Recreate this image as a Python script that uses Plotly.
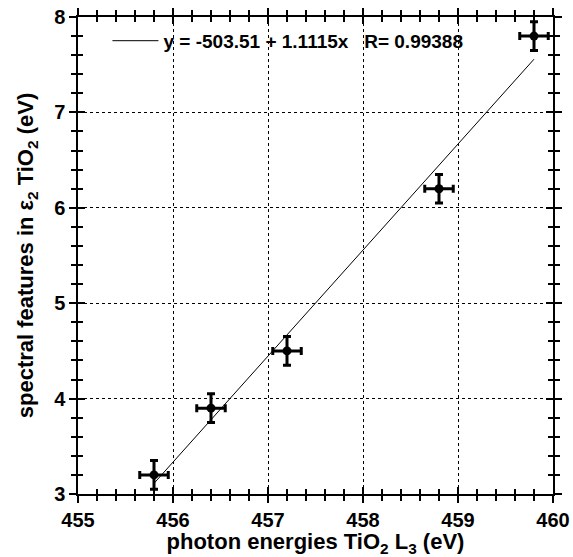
import plotly.graph_objects as go

# data
photon_energy = [455.8, 456.4, 457.2, 458.8, 459.8]
spectral_feature = [3.2, 3.9, 4.5, 6.2, 7.8]
x_err = [0.15, 0.15, 0.15, 0.15, 0.15]
y_err = [0.15, 0.15, 0.15, 0.15, 0.15]
fit_intercept = -503.51
fit_slope = 1.1115
fit_r = 0.99388

fit_x = [min(photon_energy), max(photon_energy)]
fit_y = [fit_intercept + fit_slope * v for v in fit_x]

FONT = "Liberation Sans, Arial, sans-serif"
NB = "\u00a0"

fig = go.Figure()
fig.add_trace(go.Scatter(
    x=fit_x, y=fit_y, mode="lines",
    line=dict(color="black", width=1),
    name=f"y = {fit_intercept} + {fit_slope}x{NB}{NB}{NB}R= {fit_r}",
    showlegend=True, hoverinfo="skip",
))
fig.add_trace(go.Scatter(
    x=photon_energy, y=spectral_feature, mode="markers",
    marker=dict(color="black", size=9),
    error_x=dict(type="data", array=x_err, color="black", thickness=3, width=4),
    error_y=dict(type="data", array=y_err, color="black", thickness=3, width=4),
    showlegend=False,
))
# helper trace so the overlaid (inside-tick) axes are drawn
fig.add_trace(go.Scatter(x=[None], y=[None], xaxis="x2", yaxis="y2",
                         showlegend=False, hoverinfo="skip"))

common = dict(showline=True, linecolor="black", linewidth=1.5,
              ticklen=7, tickwidth=1.5, tickcolor="black",
              zeroline=False, automargin=False)
tickfont = dict(family=FONT, size=20, color="black", weight="bold")
titlefont = dict(family=FONT, size=22, color="black", weight="bold")

fig.update_layout(
    width=573, height=557,
    margin=dict(l=78, r=20, t=17, b=63),
    paper_bgcolor="white", plot_bgcolor="white",
    font=dict(family=FONT, color="black"),
    showlegend=True,
    legend=dict(x=0.062, y=0.95, xanchor="left", yanchor="middle",
                bgcolor="rgba(0,0,0,0)",
                font=dict(family=FONT, size=19, color="black", weight="bold"),
                itemwidth=46),
    xaxis=dict(range=[455, 460], dtick=1, tick0=455,
               ticks="outside", mirror="ticks",
               minor=dict(ticks="outside", dtick=0.2, ticklen=5, tickcolor="black", tickwidth=1.5),
               showgrid=True, gridcolor="black", gridwidth=1, griddash="dot",
               tickfont=tickfont,
               title=dict(text="photon energies TiO<sub>2</sub> L<sub>3</sub> (eV)",
                          font=titlefont, standoff=6),
               **common),
    yaxis=dict(range=[3, 8], dtick=1, tick0=3,
               ticks="outside", mirror="ticks",
               minor=dict(ticks="outside", dtick=0.2, ticklen=5, tickcolor="black", tickwidth=1.5),
               showgrid=True, gridcolor="black", gridwidth=1, griddash="dot",
               tickfont=tickfont,
               title=dict(text="spectral features in ε<sub>2</sub> TiO<sub>2</sub> (eV)",
                          font=titlefont, standoff=14),
               **common),
    xaxis2=dict(overlaying="x", matches="x", anchor="y2", side="bottom",
                ticks="inside", mirror="ticks", showticklabels=False, showgrid=False,
                minor=dict(ticks="inside", dtick=0.2, ticklen=5, tickcolor="black", tickwidth=1.5),
                dtick=1, tick0=455, **common),
    yaxis2=dict(overlaying="y", matches="y", anchor="x2", side="left",
                ticks="inside", mirror="ticks", showticklabels=False, showgrid=False,
                minor=dict(ticks="inside", dtick=0.2, ticklen=5, tickcolor="black", tickwidth=1.5),
                dtick=1, tick0=3, **common),
)

fig.write_html("out.html")
